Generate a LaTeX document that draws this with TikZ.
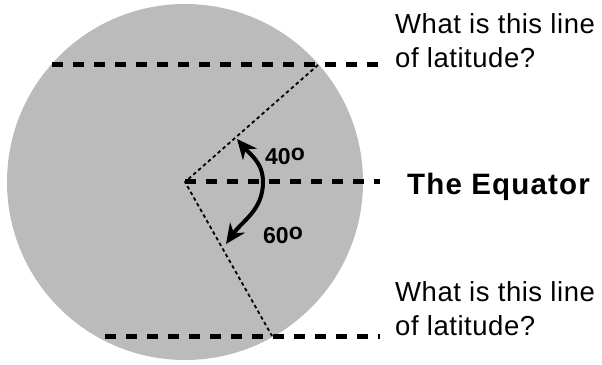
\documentclass[tikz,border=0pt]{standalone}
\usepackage{fontspec}
\setmainfont{Liberation Sans}
\usetikzlibrary{arrows.meta}
\definecolor{globe}{HTML}{BBBBBB}
\tikzset{
  latline/.style={line width=5pt, dash pattern=on 11pt off 10pt},
  radius line/.style={line width=1.8pt, dash pattern=on 3.5pt off 3pt},
  anglearrow/.style={line width=4pt, -{Stealth[length=20pt,width=18pt]}},
  label/.style={inner sep=0pt, font=\fontsize{27.5}{34}\selectfont\addfontfeature{LetterSpace=2}, align=left}
}
\begin{document}
\begin{tikzpicture}[x=1pt, y=1pt, line join=round]
			\useasboundingbox (0,0) rectangle (602,364);
			\coordinate (O) at (185,182);
			\coordinate (T1) at (52,299);
			\coordinate (T2) at (382,299);
			\coordinate (T) at (318,299);
			\coordinate (E2) at (380,182);
			\coordinate (B1) at (105,28);
			\coordinate (B2) at (380,28);
			\coordinate (B) at (272,28);
			\coordinate (E) at (263,182);
			\coordinate (TA) at (237,225);
			\coordinate (BA) at (226,120);
			\fill[globe] (O) circle (178);
			\draw[latline] (T1)--(T2);
			\draw[latline] (O)--(E2);
			\draw[latline] (B1)--(B2);
			\draw[radius line] (T)--(O)--(B);
			\draw[anglearrow] (E) to[out=90, in=-50] (TA);
			\draw[anglearrow] (E) to[out=-90, in=55] (BA);
			\node[label, anchor=base west] (qtop) at (395,296) {What is this line\\of latitude?};
			\node[label, anchor=base west] (qbot) at (395,29) {What is this line\\of latitude?};
			\node[label, anchor=base west, font=\fontsize{29.5}{34}\selectfont\bfseries\addfontfeature{LetterSpace=4}] (eqtext) at (407,169) {The Equator};
			\node[label, anchor=base west, font=\fontsize{23}{28}\selectfont\bfseries] (ang40) at (265,199) {40\raisebox{0.2em}{o}};
			\node[label, anchor=base west, font=\fontsize{23}{28}\selectfont\bfseries] (ang60) at (263,120) {60\raisebox{0.2em}{o}};
		\end{tikzpicture}
\end{document}
